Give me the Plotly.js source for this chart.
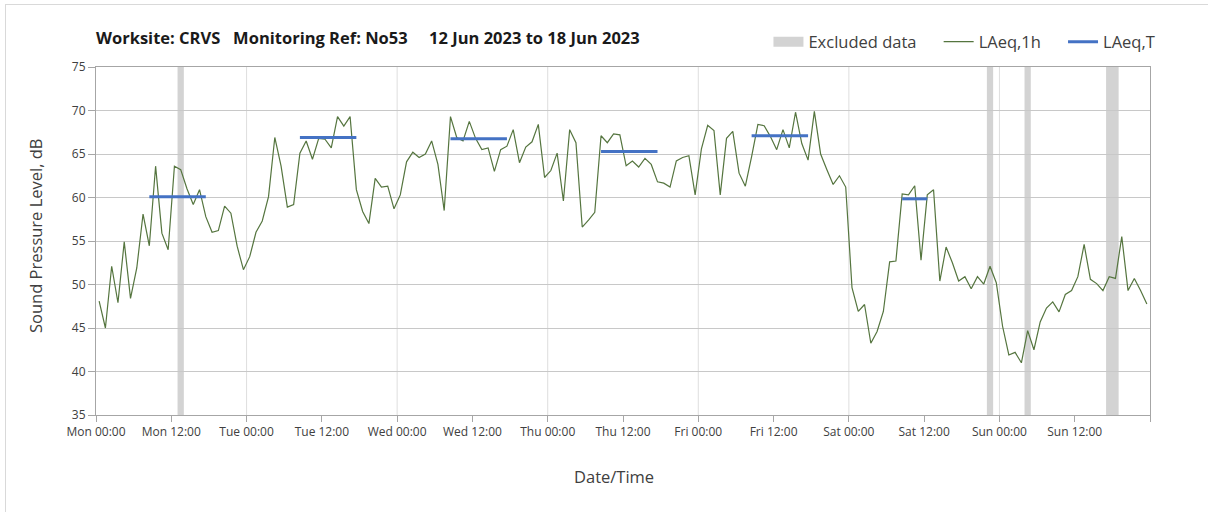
<!DOCTYPE html>
<html>
<head>
<meta charset="utf-8">
<script src="https://cdn.plot.ly/plotly-3.0.1.min.js"></script>
<style>
  html, body { margin: 0; padding: 0; background: #fff; }
  #wrap { position: relative; width: 1208px; height: 512px; }
  #chart { width: 1208px; height: 512px; }
  .bl { position: absolute; left: 5px; top: 4px; width: 1px; height: 508px; background: #d9d9d9; }
  .bt { position: absolute; left: 5px; top: 4px; width: 1203px; height: 1px; background: #d9d9d9; }
</style>
</head>
<body>
<div id="wrap">
  <div id="chart"></div>
  <div class="bl"></div>
  <div class="bt"></div>
</div>
<script>
// ---- Data ----
var startHour = '2023-06-12T00:30:00';   // first hourly LAeq,1h value (hour mid-point)
var laeq1h = [
  48.1, 45.0, 52.1, 47.9, 54.9, 48.4, 51.9, 58.1, 54.45, 63.6, 55.9, 54.0,
  63.6, 63.2, 61.0, 59.2, 60.9, 57.8, 56.0, 56.2, 59.0, 58.2, 54.4, 51.7,
  53.2, 56.0, 57.3, 60.1, 66.9, 63.6, 58.9, 59.2, 65.1, 66.5, 64.4, 66.8,
  66.7, 65.7, 69.3, 68.2, 69.3, 60.9, 58.4, 57.0, 62.2, 61.2, 61.3, 58.7,
  60.3, 64.1, 65.2, 64.6, 65.0, 66.5, 63.8, 58.5, 69.3, 66.9, 66.5, 68.75,
  66.8, 65.5, 65.7, 63.0, 65.5, 65.9, 67.8, 64.0, 65.8, 66.4, 68.4, 62.3,
  63.1, 65.1, 59.6, 67.8, 66.3, 56.6, 57.4, 58.3, 67.1, 66.3, 67.3, 67.2,
  63.65, 64.2, 63.5, 64.5, 63.8, 61.8, 61.65, 61.2, 64.2, 64.6, 64.8, 60.3,
  65.6, 68.3, 67.7, 60.3, 66.8, 67.6, 62.8, 61.3, 64.7, 68.4, 68.25, 67.0,
  65.5, 67.8, 65.7, 69.8, 66.2, 64.3, 69.9, 65.0, 63.2, 61.5, 62.5, 61.2,
  49.65, 46.9, 47.7, 43.25, 44.6, 46.9, 52.6, 52.7, 60.4, 60.3, 61.35, 52.8,
  60.3, 60.9, 50.4, 54.3, 52.5, 50.4, 50.9, 49.5, 50.9, 50.05, 52.1, 50.2,
  45.2, 41.9, 42.2, 41.0, 44.7, 42.5, 45.7, 47.3, 48.0, 46.85, 48.85, 49.3,
  50.9, 54.6, 50.6, 50.1, 49.3, 50.9, 50.7, 55.5, 49.3, 50.7, 49.3, 47.75
];

// LAeq,T daytime periods
var periodStart = ['2023-06-12 08:30', '2023-06-13 08:30', '2023-06-14 08:30', '2023-06-15 08:30', '2023-06-16 08:30', '2023-06-17 08:30'];
var periodEnd   = ['2023-06-12 17:30', '2023-06-13 17:30', '2023-06-14 17:30', '2023-06-15 17:30', '2023-06-16 17:30', '2023-06-17 12:30'];
var periodValue = [60.1, 66.9, 66.75, 65.3, 67.1, 59.85];

// Excluded data periods
var excludedStart = ['2023-06-12 13:00', '2023-06-17 22:00', '2023-06-18 04:00', '2023-06-18 17:00'];
var excludedEnd   = ['2023-06-12 14:00', '2023-06-17 23:00', '2023-06-18 05:00', '2023-06-18 19:00'];

// Axis ticks
var tickTimes  = ['2023-06-12 00:00', '2023-06-12 12:00', '2023-06-13 00:00', '2023-06-13 12:00',
                  '2023-06-14 00:00', '2023-06-14 12:00', '2023-06-15 00:00', '2023-06-15 12:00',
                  '2023-06-16 00:00', '2023-06-16 12:00', '2023-06-17 00:00', '2023-06-17 12:00',
                  '2023-06-18 00:00', '2023-06-18 12:00', '2023-06-19 00:00'];
var tickLabels = ['Mon 00:00', 'Mon 12:00', 'Tue 00:00', 'Tue 12:00', 'Wed 00:00', 'Wed 12:00',
                  'Thu 00:00', 'Thu 12:00', 'Fri 00:00', 'Fri 12:00', 'Sat 00:00', 'Sat 12:00',
                  'Sun 00:00', 'Sun 12:00', ''];
var dayLines = ['2023-06-13 00:00', '2023-06-14 00:00', '2023-06-15 00:00', '2023-06-16 00:00',
                '2023-06-17 00:00', '2023-06-18 00:00'];
var yTicks = [35, 40, 45, 50, 55, 60, 65, 70, 75];

// ---- Build ----
function pad(n) { return (n < 10 ? '0' : '') + n; }
function fmt(d) {
  return d.getUTCFullYear() + '-' + pad(d.getUTCMonth() + 1) + '-' + pad(d.getUTCDate()) + ' ' +
         pad(d.getUTCHours()) + ':' + pad(d.getUTCMinutes());
}
var t0 = Date.parse(startHour + 'Z');
var times = laeq1h.map(function (v, i) { return fmt(new Date(t0 + i * 3600000)); });

var segX = [], segY = [];
for (var k = 0; k < periodValue.length; k++) {
  segX.push(periodStart[k], periodEnd[k], null);
  segY.push(periodValue[k], periodValue[k], null);
}

var shapes = [];
for (var e = 0; e < excludedStart.length; e++) {
  shapes.push({ type: 'rect', xref: 'x', yref: 'paper', x0: excludedStart[e], x1: excludedEnd[e],
                y0: 0, y1: 1, fillcolor: '#d3d3d3', line: { width: 0 }, layer: 'below' });
}
for (var d = 0; d < dayLines.length; d++) {
  shapes.push({ type: 'line', xref: 'x', yref: 'paper', x0: dayLines[d], x1: dayLines[d],
                y0: 0, y1: 1, line: { color: '#dedede', width: 1 }, layer: 'below' });
}

var FONT = '"Open Sans", "Noto Sans", sans-serif';
var TXT = '#404040';
var NB = '\u00a0';
function sp(n) { return new Array(n + 1).join(NB); }

var traces = [
  { x: [null], y: [null], type: 'scatter', mode: 'lines', name: 'Excluded data' + sp(4),
    line: { color: '#d3d3d3', width: 10 }, hoverinfo: 'skip' },
  { x: times, y: laeq1h, type: 'scatter', mode: 'lines', name: 'LAeq,1h' + sp(4),
    line: { color: '#55753f', width: 1.2 } },
  { x: segX, y: segY, type: 'scatter', mode: 'lines', name: 'LAeq,T',
    line: { color: '#4472c4', width: 3 }, connectgaps: false }
];

var layout = {
  width: 1208, height: 512,
  margin: { l: 96, r: 58, t: 67, b: 97 },
  paper_bgcolor: '#ffffff', plot_bgcolor: '#ffffff',
  font: { family: FONT, color: TXT },
  title: {
    text: 'Worksite: CRVS' + sp(3) + 'Monitoring Ref: No53' + sp(5) + '12 Jun 2023 to 18 Jun 2023',
    font: { family: FONT, size: 16.5, color: '#1a1a1a', weight: 'bold' },
    x: 96 / 1208, xanchor: 'left', xref: 'container',
    y: 1 - 38 / 512, yanchor: 'middle', yref: 'container'
  },
  showlegend: true,
  legend: {
    orientation: 'h', x: 0.638, xanchor: 'left', y: 1.072, yanchor: 'middle',
    font: { family: FONT, size: 16.5, color: TXT }, bgcolor: 'rgba(0,0,0,0)'
  },
  xaxis: {
    type: 'date',
    range: ['2023-06-12 00:00', '2023-06-19 00:00'],
    tickmode: 'array', tickvals: tickTimes, ticktext: tickLabels,
    showgrid: false, zeroline: false,
    showline: true, linecolor: '#a6a6a6', linewidth: 1, mirror: true,
    ticks: 'outside', ticklen: 6, tickcolor: '#a6a6a6',
    tickfont: { family: FONT, size: 12, color: TXT },
    automargin: false, fixedrange: true
  },
  yaxis: {
    range: [35, 75], tickmode: 'array', tickvals: yTicks,
    showgrid: true, gridcolor: '#c8c8c8', gridwidth: 1, zeroline: false,
    showline: true, linecolor: '#a6a6a6', linewidth: 1, mirror: true,
    ticks: 'outside', ticklen: 7, tickcolor: '#a6a6a6',
    tickfont: { family: FONT, size: 12, color: TXT },
    automargin: false, fixedrange: true
  },
  annotations: [
    { text: 'Date/Time', xref: 'paper', yref: 'paper', x: (614 - 96) / 1054, y: (415 - 476) / 348,
      xanchor: 'center', yanchor: 'middle', showarrow: false,
      font: { family: FONT, size: 16.5, color: TXT } },
    { text: 'Sound Pressure Level, dB', xref: 'paper', yref: 'paper', x: (35 - 96) / 1054, y: (415 - 236) / 348,
      xanchor: 'center', yanchor: 'middle', textangle: -90, showarrow: false,
      font: { family: FONT, size: 16.5, color: TXT } }
  ],
  shapes: shapes,
  hovermode: false
};

Plotly.newPlot('chart', traces, layout, { displayModeBar: false, staticPlot: true });
</script>
</body>
</html>
